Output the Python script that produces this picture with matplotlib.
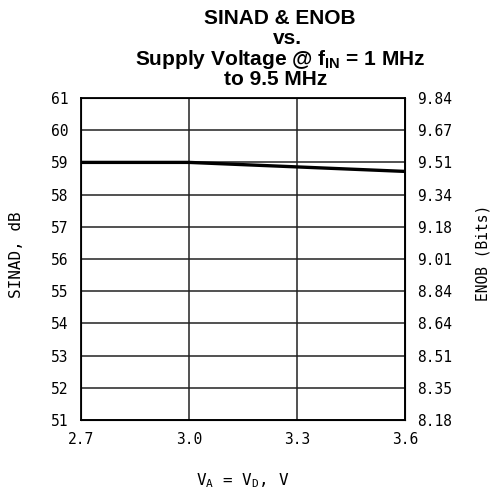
import numpy as np
import matplotlib
matplotlib.use("Agg")
import matplotlib.pyplot as plt

# data
supply_v = [2.7, 3.0, 3.3, 3.6]
sinad_db = [59.0, 59.0, 58.86, 58.72]
x_ticks = [2.7, 3.0, 3.3, 3.6]
sinad_ticks = list(range(51, 62))
enob_labels = ["8.18", "8.35", "8.51", "8.64", "8.84", "9.01",
               "9.18", "9.34", "9.51", "9.67", "9.84"]

plt.rcParams["mathtext.fontset"] = "custom"
plt.rcParams["mathtext.rm"] = "Liberation Sans"
plt.rcParams["mathtext.bf"] = "Liberation Sans:bold"
plt.rcParams["mathtext.tt"] = "DejaVu Sans Mono"

mono = "DejaVu Sans Mono"
W, H = 492, 491
fig = plt.figure(figsize=(W / 100, H / 100), dpi=100)
ax = fig.add_axes([81 / W, 1 - 420 / H, 324 / W, 322 / H])

ax.plot(supply_v, sinad_db, color="black", lw=2.4, zorder=3)

ax.set_xlim(2.7, 3.6)
ax.set_ylim(51, 61)
ax.set_xticks(x_ticks)
ax.set_xticklabels([f"{v:.1f}" for v in x_ticks], family=mono, fontsize=10.5)
ax.set_yticks(sinad_ticks)
ax.set_yticklabels([str(v) for v in sinad_ticks], family=mono, fontsize=10.5)
ax.tick_params(length=0, pad=9)
ax.grid(True, color="#222222", lw=1.1)
for s in ax.spines.values():
    s.set_linewidth(1.3)

ax2 = ax.twinx()
ax2.set_ylim(51, 61)
ax2.set_yticks(sinad_ticks)
ax2.set_yticklabels(enob_labels, family=mono, fontsize=10.5)
ax2.tick_params(length=0, pad=9)

# axis titles
fig.text(17 / W, 1 - 255 / H, "SINAD, dB", family=mono, fontsize=11.5,
         rotation=90, ha="center", va="center")
fig.text(483 / W, 1 - 253 / H, "ENOB (Bits)", family=mono, fontsize=10.5,
         rotation=90, ha="center", va="center")
ax.set_xlabel(r"V$_\mathtt{A}$ = V$_\mathtt{D}$, V", family=mono, fontsize=11.5, labelpad=17)

tkw = dict(ha="center", va="baseline", fontsize=15, fontweight="bold", family="Liberation Sans")
fig.text(280 / W, 1 - 23.5 / H, "SINAD & ENOB", **tkw)
fig.text(287 / W, 1 - 44 / H, "vs.", **tkw)
fig.text(280 / W, 1 - 65 / H, r"Supply Voltage @ $\mathbf{f_{IN}}$ = 1 MHz", **tkw)
fig.text(276 / W, 1 - 85 / H, "to 9.5 MHz", **tkw)

fig.savefig("out.png", dpi=100)
